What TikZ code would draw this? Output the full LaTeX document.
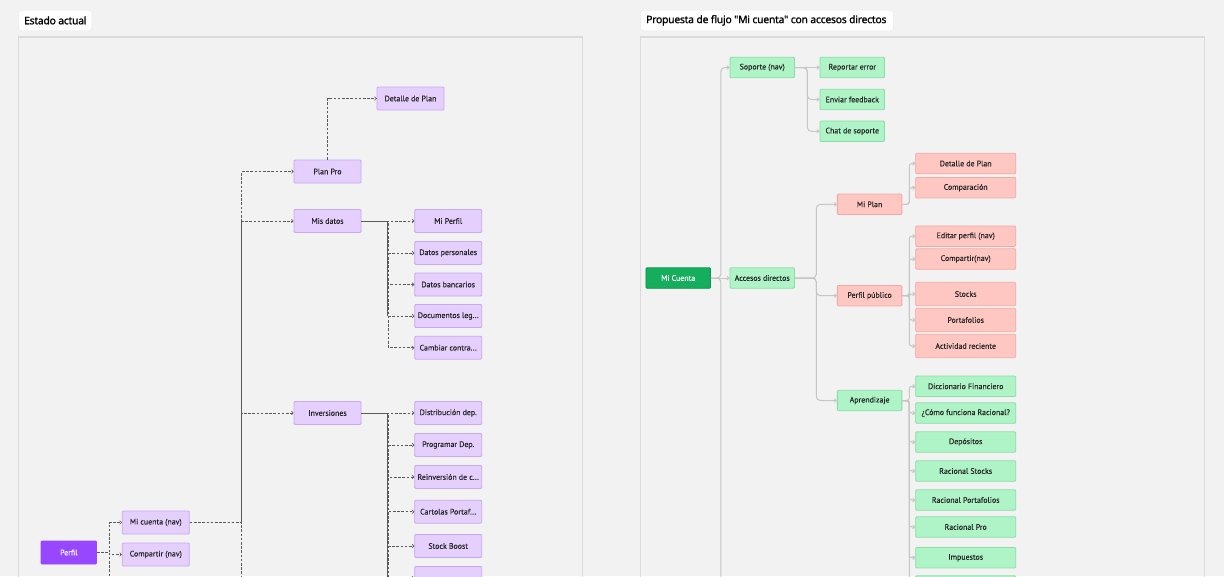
\documentclass[tikz,border=0pt]{standalone}
\usepackage{fontspec}
\setmainfont{Noto Sans}
\newfontfamily\nodefnt[FakeBold=0.3]{PT Sans}
\newfontfamily\titlefont[FakeBold=1.2,LetterSpace=-2]{Noto Sans}
\usetikzlibrary{arrows.meta}
\definecolor{bg}{HTML}{F2F2F2}
\definecolor{panelb}{HTML}{DADADA}
\definecolor{purpF}{HTML}{E5CFFD}
\definecolor{purpB}{HTML}{C7A8F2}
\definecolor{purpD}{HTML}{9747FF}
\definecolor{grnF}{HTML}{AFF4C6}
\definecolor{grnB}{HTML}{8ADDA6}
\definecolor{grnD}{HTML}{14AE5C}
\definecolor{redF}{HTML}{FFC7C2}
\definecolor{redB}{HTML}{F2A9A2}
\definecolor{txt}{HTML}{262626}
\definecolor{ldc}{HTML}{5A5A5A}
\definecolor{rlc}{HTML}{C6C6C6}
\tikzset{
  nodefont/.style={font=\nodefnt\fontsize{7.9}{9.5}\selectfont, text=txt},
  pbox/.style={nodefont, rectangle, fill=purpF, draw=purpB, line width=0.8pt, minimum width=67pt, minimum height=23pt, inner sep=0pt, rounded corners=1pt},
  pdark/.style={pbox, fill=purpD, draw=purpD, text=white, minimum width=55.5pt},
  gbox/.style={nodefont, rectangle, fill=grnF, draw=grnB, line width=0.8pt, minimum width=64.5pt, minimum height=20.5pt, inner sep=0pt, rounded corners=1pt},
  gwide/.style={gbox, minimum width=100pt},
  gdark/.style={gbox, fill=grnD, draw=grnD!85!black, text=white},
  rbox/.style={nodefont, rectangle, fill=redF, draw=redB, line width=0.8pt, minimum width=64.5pt, minimum height=20.5pt, inner sep=0pt, rounded corners=1pt},
  rwide/.style={rbox, minimum width=100pt},
  rtall/.style={rwide, minimum height=23.4pt},
  ldash/.style={draw=ldc, line width=0.6pt, dash pattern=on 2.6pt off 1.6pt, -{Straight Barb[length=1.8pt,width=3.6pt]}},
  ldashplain/.style={draw=ldc, line width=0.6pt, dash pattern=on 2.6pt off 1.6pt},
  lsolid/.style={draw=ldc, line width=0.7pt},
  rline/.style={draw=rlc, line width=1pt, rounded corners=4pt, -{Straight Barb[length=1.8pt,width=3.6pt]}},
  rlineplain/.style={draw=rlc, line width=1pt, rounded corners=4pt},
  rline2/.style={rline, rounded corners=2.5pt},
  panel/.style={draw=panelb, line width=1.4pt},
  titlebox/.style={rectangle, fill=white, draw=panelb!60!white, line width=0.5pt, rounded corners=3pt, inner sep=0pt, minimum height=20.7pt},
  titletext/.style={anchor=west, inner sep=0pt, font=\titlefont\fontsize{10.3}{12}\selectfont, text=black}
}
\begin{document}
\begin{tikzpicture}[x=1pt,y=-1pt]
\useasboundingbox (0,0) rectangle (1224,576);
\clip (0,0) rectangle (1224,576);
\fill[bg] (0,0) rectangle (1224,576);
% panels
\draw[panel] (18.4,36.8) rectangle (582.4,620);
\draw[panel] (640.4,36.8) rectangle (1204.5,620);
\node[titlebox, minimum width=73.4pt] (t1) at (55.1,20.4) {};
\node[titletext] (t1t) at ([xshift=5.8pt]t1.west) {Estado actual};
\node[titlebox, minimum width=253.1pt] (t2) at (767,20.4) {};
\node[titletext] (t2t) at ([xshift=5.8pt]t2.west) {Propuesta de flujo "Mi cuenta" con accesos directos};

% ---------------- left panel ----------------
\node[pbox] (det) at (410.5,98.5) {Detalle de Plan};
\node[pbox] (pp) at (327.5,171.5) {Plan Pro};
\node[pbox] (md) at (327.5,221) {Mis datos};
\node[pbox] (mperf) at (448.2,221) {Mi Perfil};
\node[pbox] (dper) at (448.2,253) {Datos personales};
\node[pbox] (dban) at (448.2,284.5) {Datos bancarios};
\node[pbox] (dleg) at (448.2,316) {Documentos leg...};
\node[pbox] (camb) at (448.2,347.7) {Cambiar contra...};
\node[pbox] (inv) at (327.5,413) {Inversiones};
\node[pbox] (dist) at (448.2,413) {Distribución dep.};
\node[pbox] (prog) at (448.2,445) {Programar Dep.};
\node[pbox] (rein) at (448.2,477) {Reinversión de c...};
\node[pbox] (cart) at (448.2,511.7) {Cartolas Portaf...};
\node[pbox] (sboost) at (448.2,546) {Stock Boost};
\node[pbox] (lnext) at (448.2,578) {};
\node[pbox] (mcnav) at (155.8,522.5) {Mi cuenta (nav)};
\node[pbox] (cnav) at (155.8,554.5) {Compartir (nav)};
\node[pdark] (perfil) at (68.8,552.5) {Perfil};

% solid-looking overlaps
\draw[lsolid] (241.3,221) -- (241.3,522.5);
\draw[lsolid] (md.east) -- ++(26,0) -- ++(0,95);
\draw[lsolid] (inv.east) -- ++(26,0) -- ++(0,200);

% Perfil connectors
\draw[ldash] (perfil.east) -- ++(12.5,0) |- (mcnav.west);
\draw[ldash] (perfil.east) -- ++(12.5,0) |- (cnav.west);
\draw[ldashplain] (perfil.east) -- ++(12.5,0) -- ++(0,40);
% Mi cuenta (nav)
\draw[ldash] (mcnav.east) -- ++(52,0) |- (pp.west);
\draw[ldash] (mcnav.east) -- ++(52,0) |- (md.west);
\draw[ldash] (mcnav.east) -- ++(52,0) |- (inv.west);
\draw[ldashplain] (mcnav.east) -- ++(52,0) -- ++(0,70);
% Plan Pro
\draw[ldash] (pp.north) |- (det.west);
% Mis datos
\foreach \c in {mperf,dper,dban,dleg,camb}
  \draw[ldash] (md.east) -- ++(27,0) |- (\c.west);
% Inversiones
\foreach \c in {dist,prog,rein,cart,sboost,lnext}
  \draw[ldash] (inv.east) -- ++(27,0) |- (\c.west);

% ---------------- right panel ----------------
\node[gdark] (mcu) at (678.2,278) {Mi Cuenta};
\node[gbox] (acc) at (762.2,278) {Accesos directos};
\node[gbox] (sop) at (762.2,67.5) {Soporte (nav)};
\node[gbox] (rep) at (852.3,67.5) {Reportar error};
\node[gbox] (env) at (852.3,99.5) {Enviar feedback};
\node[gbox] (chat) at (852.3,131.3) {Chat de soporte};
\node[rbox] (mplan) at (869.6,204.3) {Mi Plan};
\node[rwide] (rdet) at (965.7,163.5) {Detalle de Plan};
\node[rwide] (comp) at (965.7,187.7) {Comparación};
\node[rwide] (edit) at (965.7,236.2) {Editar perfil (nav)};
\node[rwide] (rcomp) at (965.7,259) {Compartir(nav)};
\node[rbox] (ppub) at (869.6,295.7) {Perfil público};
\node[rtall] (stk) at (965.7,294) {Stocks};
\node[rtall] (port) at (965.7,320) {Portafolios};
\node[rtall] (act) at (965.7,346) {Actividad reciente};
\node[gbox] (apr) at (869.6,400.5) {Aprendizaje};
\node[gwide] (dic) at (965.7,386.3) {Diccionario Financiero};
\node[gwide] (como) at (965.7,413) {¿Cómo funciona Racional?};
\node[gwide] (dep) at (965.7,442) {Depósitos};
\node[gwide] (rst) at (965.7,471) {Racional Stocks};
\node[gwide] (rpo) at (965.7,500) {Racional Portafolios};
\node[gwide] (rpr) at (965.7,527) {Racional Pro};
\node[gwide] (imp) at (965.7,557.7) {Impuestos};
\node[gwide] (rnext) at (965.7,586) {};

% Mi Cuenta
\draw[rline] (mcu.east) -- ++(10,0) |- (sop.west);
\draw[rline] (mcu.east) -- (acc.west);
\draw[rlineplain] (mcu.east) -- ++(10,0) -- ++(0,320);
% Soporte
\draw[rline] (sop.east) -- (rep.west);
\foreach \c in {env,chat}
  \draw[rline] (sop.east) -- ++(12.5,0) |- (\c.west);
% Accesos directos
\foreach \c in {mplan,ppub,apr}
  \draw[rline] (acc.east) -- ++(21.5,0) |- (\c.west);
% Mi Plan
\foreach \c in {rdet,comp}
  \draw[rline2] (mplan.east) -- ++(7,0) |- (\c.west);
% Perfil publico
\foreach \c in {edit,rcomp,stk,port,act}
  \draw[rline2] (ppub.east) -- ++(7,0) |- (\c.west);
% Aprendizaje
\foreach \c in {dic,como,dep,rst,rpo,rpr,imp,rnext}
  \draw[rline2] (apr.east) -- ++(7,0) |- (\c.west);
\end{tikzpicture}
\end{document}
